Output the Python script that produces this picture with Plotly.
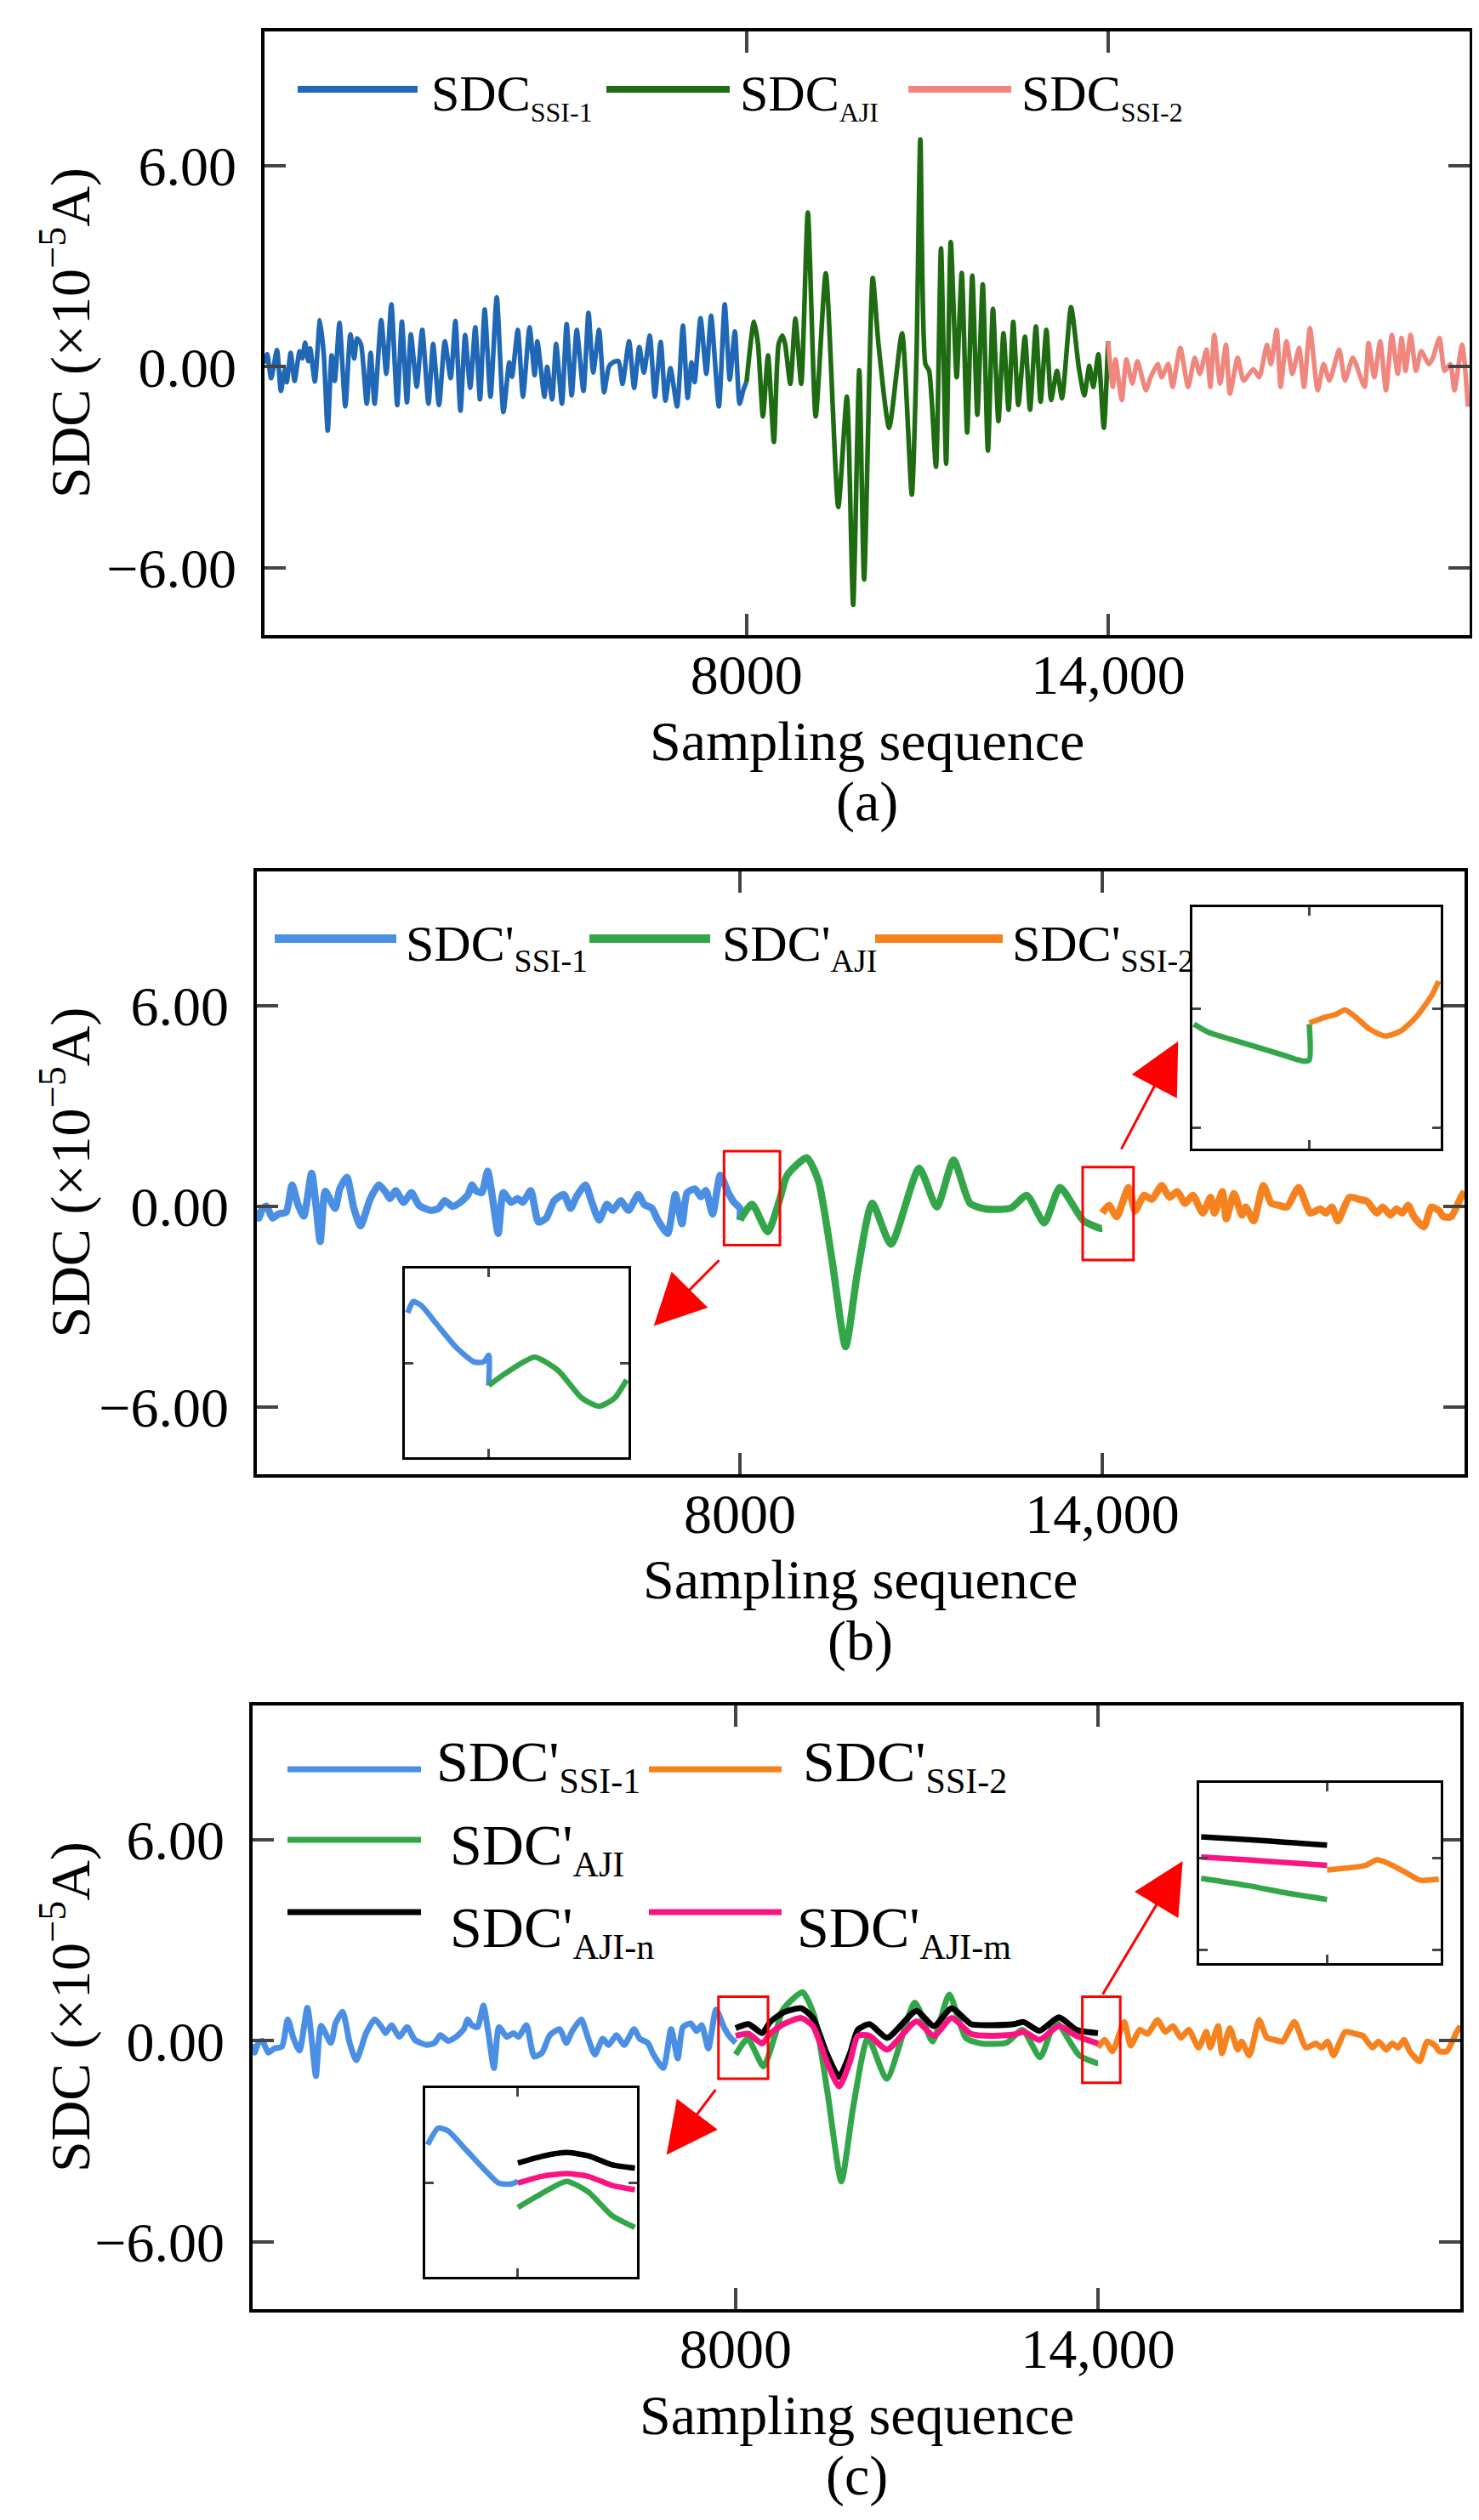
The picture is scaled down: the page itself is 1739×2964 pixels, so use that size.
import plotly.graph_objects as go

W, H = 1739, 2964
FONT = "Liberation Serif"

# ---------------- data: panel (a) ----------------
a_ssi1_x = [0, 45, 110, 207, 272, 337, 369, 434, 499, 583, 628, 674, 726, 758, 836, 920, 985, 1049, 1114,
            1166, 1244, 1341, 1425, 1490, 1535, 1600, 1697, 1762, 1827, 1937, 2021, 2105, 2203, 2280, 2364,
            2429, 2526, 2617, 2721, 2798, 2896, 2993, 3090, 3168, 3252, 3330, 3414, 3498, 3576, 3654, 3751,
            3854, 3965, 4062, 4107, 4204, 4289, 4399, 4483, 4528, 4645, 4690, 4774, 4839, 4936, 5014, 5098,
            5182, 5293, 5377, 5455, 5552, 5636, 5714, 5778, 5875, 5940, 6050, 6135, 6219, 6297, 6394, 6478,
            6575, 6653, 6737, 6847, 6944, 7022, 7087, 7138, 7236, 7333, 7411, 7540, 7638, 7722, 7806, 7884,
            7948, 8000]
a_ssi1_y = [0.1, 0.38, -0.34, 0.5, -0.72, -0.08, -0.46, 0.42, -0.42, 0.46, 0.25, 0.72, 0.17, 0.55, -0.44,
            1.39, 0.34, -1.9, 0.34, -0.42, 1.31, -1.18, 0.97, 0.25, 0.85, 0.68, -1.1, 0.42, -1.1, 1.39, -0.21,
            1.86, -1.14, 1.35, -1.06, 0.97, -0.59, 1.1, -1.1, 0.68, -1.14, 0.76, -0.34, 1.37, -1.31, 0.95,
            -0.63, 1.18, -0.97, 1.71, -0.89, 2.07, -1.35, 0.13, -0.3, 1.1, -0.89, 1.18, -0.25, 0.76, -0.89, 0.0,
            -0.97, 0.68, -1.1, 1.27, -0.85, 1.1, -0.72, 1.61, -0.17, 1.1, -0.76, 0.0, 0.13, 0.17, -0.51, 0.76,
            -0.63, 0.59, -0.17, 0.93, -0.89, 0.74, -1.01, -0.04, -1.18, 1.23, -0.93, 0.13, -0.46, 1.45, -0.21,
            1.52, -1.18, 1.86, -0.38, 1.06, -1.1, -0.68, -0.45]

a_aji_x = [8000, 8123, 8190, 8272, 8356, 8454, 8532, 8596, 8640, 8726, 8810, 8907, 9017, 9147, 9315, 9522,
           9665, 9769, 9870, 9951, 10094, 10190, 10366, 10580, 10742, 10820, 10884, 10968, 11030, 11143, 11227,
           11312, 11389, 11487, 11571, 11661, 11746, 11830, 11920, 12005, 12089, 12180, 12264, 12348, 12426,
           12510, 12620, 12704, 12802, 12879, 12976, 13054, 13151, 13235, 13385, 13514, 13605, 13689, 13754,
           13838, 13929, 14000]
a_aji_y = [-0.45, 1.35, 0.68, -1.48, 0.34, -2.24, 0.68, 0.93, 0.68, -0.51, 1.44, -0.51, 4.6, -1.48, 2.79,
           -4.18, -0.89, -7.1, -0.1, -6.34, 2.65, 0.66, -1.82, 1.0, -3.81, 0.27, 6.78, 0.08, -0.12, -2.98, 3.53,
           -2.89, 3.72, -0.31, 2.8, -1.96, 2.72, -1.43, 2.46, -2.5, 1.73, -1.62, 1.0, -1.28, 1.34, -1.14, 0.9,
           -1.28, 1.2, -1.04, 1.1, -0.99, -0.12, -0.94, 1.78, -0.02, -0.85, 0.03, -0.6, 0.37, -1.82, 0.76]

a_ssi2_x = [14000, 14078, 14123, 14227, 14304, 14402, 14486, 14628, 14706, 14823, 14887, 14998, 15069, 15198,
            15328, 15438, 15522, 15632, 15697, 15762, 15859, 15956, 16021, 16151, 16248, 16410, 16507, 16637,
            16701, 16798, 16863, 16960, 17058, 17168, 17252, 17349, 17479, 17576, 17673, 17835, 17932, 18062,
            18256, 18321, 18418, 18515, 18612, 18709, 18806, 18871, 18936, 19020, 19111, 19195, 19325, 19390,
            19499, 19584, 19681, 19746, 19875, 19973]
a_ssi2_y = [0.76, -0.6, 0.22, -0.99, 0.22, -0.5, 0.17, -0.7, -0.31, 0.08, -0.31, 0.08, -0.6, 0.56, -0.6,
            0.27, -0.21, 0.51, -0.6, 0.95, -0.5, 0.66, -0.8, 0.27, -0.41, -0.07, -0.31, 0.66, 0.08, 1.1, -0.6,
            0.76, -0.21, 0.56, -0.6, 1.15, -0.7, 0.08, -0.41, 0.51, -0.41, 0.27, -0.6, 0.71, -0.31, 0.76, -0.7,
            0.95, -0.21, 0.86, -0.12, 0.95, -0.12, 0.47, 0.08, 0.27, 0.86, -0.12, 0.08, -0.7, 0.66, -1.19]

# ---------------- data: panels (b) and (c) ----------------
b_ssi1_x = [0, 32, 97, 162, 259, 356, 486, 583, 680, 777, 907, 985, 1049, 1134, 1296, 1373, 1490, 1607, 1717,
            1879, 2021, 2138, 2203, 2300, 2430, 2559, 2688, 2883, 3012, 3109, 3239, 3369, 3498, 3563, 3628,
            3725, 3822, 3900, 3997, 4081, 4211, 4321, 4405, 4535, 4664, 4794, 4923, 5085, 5195, 5293, 5442,
            5539, 5668, 5798, 5895, 6025, 6154, 6316, 6413, 6543, 6640, 6802, 6931, 7041, 7126, 7255, 7353,
            7437, 7547, 7676, 7806, 7903, 8000, 8000]
b_ssi1_y = [-0.1, -0.35, -0.06, 0.0, -0.35, -0.23, -0.17, 0.64, 0.06, -0.29, 0.99, -0.06, -1.05, 0.45, -0.06,
            0.52, 0.87, -0.06, -0.58, 0.23, 0.64, 0.41, 0.23, 0.47, 0.12, 0.41, 0.03, -0.12, -0.06, 0.17, 0.0,
            0.12, 0.35, 0.64, 0.47, 0.41, 1.05, 0.29, -0.81, 0.41, 0.12, 0.23, 0.12, 0.47, -0.47, -0.35, 0.17,
            0.35, -0.06, 0.29, 0.64, 0.17, -0.41, 0.06, -0.12, 0.17, -0.12, 0.35, 0.06, -0.06, -0.41, -0.81,
            0.35, -0.52, 0.41, 0.52, 0.29, 0.47, -0.23, 0.93, 0.41, 0.12, -0.06, -0.41]

b_aji_x = [8000, 8200, 8459, 8653, 8783, 9107, 9300, 9523, 9750, 9944, 10191, 10502, 10968, 11260, 11538,
           11810, 12070, 12490, 12750, 13041, 13300, 13689, 13980, 14000]
b_aji_y = [-0.41, 0.06, -0.76, 0.17, 0.93, 1.45, 0.76, -1.57, -4.19, -2.0, 0.09, -1.13, 1.14, -0.02, 1.38,
           0.09, -0.08, -0.05, 0.33, -0.49, 0.56, -0.43, -0.66, -0.66]

b_ssi2_x = [14000, 14110, 14240, 14434, 14544, 14693, 14823, 14985, 15114, 15244, 15373, 15503, 15665, 15794,
            15859, 15989, 16054, 16183, 16313, 16377, 16507, 16669, 16799, 16928, 17058, 17252, 17446, 17608,
            17705, 17803, 17900, 18094, 18256, 18386, 18548, 18645, 18774, 18871, 18969, 19066, 19163, 19325,
            19454, 19584, 19649, 19778, 19940, 20000]
b_ssi2_y = [-0.2, 0.03, -0.31, 0.56, -0.14, 0.33, 0.21, 0.62, 0.27, 0.44, 0.09, 0.33, -0.2, 0.27, -0.2, 0.44,
            -0.37, 0.38, -0.26, -0.02, -0.43, 0.62, 0.09, 0.03, -0.02, 0.56, -0.2, -0.08, -0.2, -0.02, -0.43,
            0.27, 0.21, 0.15, -0.2, -0.02, -0.26, -0.08, -0.2, 0.03, -0.31, -0.61, -0.02, -0.14, -0.31, -0.31,
            0.27, 0.44]

c_ajin_x = [8000, 8213, 8439, 8569, 8795, 9086, 9280, 9506, 9713, 9894, 10023, 10217, 10508, 10993, 11284,
            11575, 11898, 12222, 12610, 12771, 13030, 13353, 13644, 14000]
c_ajin_y = [0.38, 0.5, 0.23, 0.56, 0.85, 0.97, 0.68, -0.37, -1.07, -0.37, 0.33, 0.5, 0.09, 0.89, 0.44, 0.97,
            0.5, 0.47, 0.5, 0.56, 0.3, 0.7, 0.33, 0.23]
c_ajim_x = c_ajin_x
c_ajim_y = [0.15, 0.21, -0.08, 0.21, 0.5, 0.68, 0.44, -0.61, -1.36, -0.61, 0.15, 0.15, -0.26, 0.58, 0.15,
            0.68, 0.21, 0.15, 0.19, 0.27, 0.03, 0.44, 0.15, -0.08]

# ---------------- data: zoomed insets ----------------
ib1_ssi1_x = [7710, 7730, 7758, 7814, 7885, 7947, 7982, 8000, 8000]
ib1_ssi1_y = [0.33, 0.45, 0.41, 0.21, -0.04, -0.19, -0.19, -0.12, -0.44]
ib1_aji_x = [8000, 8066, 8164, 8248, 8332, 8395, 8451, 8493]
ib1_aji_y = [-0.44, -0.30, -0.14, -0.28, -0.57, -0.66, -0.57, -0.38]

ib2_aji_x = [13605, 13656, 13790, 13924, 13977, 14000, 14000]
ib2_aji_y = [-0.13, -0.2, -0.3, -0.4, -0.44, -0.43, -0.13]
ib2_ssi2_x = [14000, 14058, 14091, 14122, 14158, 14205, 14259, 14312, 14366, 14419, 14443]
ib2_ssi2_y = [-0.12, -0.07, -0.05, -0.01, -0.07, -0.17, -0.23, -0.19, -0.07, 0.11, 0.23]

ic1_ssi1_x = [7659, 7699, 7736, 7794, 7868, 7927, 7971, 8000]
ic1_ssi1_y = [0.68, 0.98, 0.93, 0.64, 0.26, -0.01, -0.03, 0.02]
ic1_x = [8000, 8089, 8184, 8266, 8354, 8442]
ic1_ajin_y = [0.35, 0.47, 0.54, 0.48, 0.32, 0.26]
ic1_ajim_y = [-0.01, 0.11, 0.16, 0.11, -0.05, -0.13]
ic1_aji_y = [-0.45, -0.2, 0.02, -0.17, -0.59, -0.81]

ic2_x = [13557, 13722, 13859, 14000]
ic2_ajin_y = [0.23, 0.2, 0.17, 0.14]
ic2_ajim_y = [0.01, -0.02, -0.05, -0.08]
ic2_aji_y = [-0.22, -0.3, -0.38, -0.45]
ic2_ssi2_x = [14000, 14066, 14135, 14176, 14217, 14273, 14327, 14393]
ic2_ssi2_y = [-0.13, -0.11, -0.08, -0.02, -0.06, -0.15, -0.24, -0.23]

# colours
A_BLUE, A_GREEN, A_PINK = "#2068b6", "#1e6b12", "#f0877e"
B_BLUE, B_GREEN, B_ORANGE = "#4a8fe3", "#34a64a", "#f5821f"
BLACK, MAGENTA, RED = "#000000", "#fa1482", "#ff0000"


def fx(px):
    return px / W


def fy(py):
    return 1 - py / H


fig = go.Figure()


def add(x, y, color, width, ax):
    fig.add_trace(go.Scatter(x=x, y=y, mode="lines", xaxis="x" + ax, yaxis="y" + ax,
                             line=dict(color=color, width=width, shape="spline", smoothing=0.6),
                             showlegend=False, hoverinfo="skip"))


# main panels
add(a_ssi1_x, a_ssi1_y, A_BLUE, 5.5, "")
add(a_aji_x, a_aji_y, A_GREEN, 5.5, "")
add(a_ssi2_x, a_ssi2_y, A_PINK, 5.5, "")

add(b_ssi1_x, b_ssi1_y, B_BLUE, 8.5, "2")
add(b_aji_x, b_aji_y, B_GREEN, 8.5, "2")
add(b_ssi2_x, b_ssi2_y, B_ORANGE, 8.5, "2")

add(b_ssi1_x[:-1], b_ssi1_y[:-1], B_BLUE, 7, "3")
add(b_ssi2_x, b_ssi2_y, B_ORANGE, 7, "3")
add(b_aji_x, b_aji_y, B_GREEN, 7, "3")
add(c_ajin_x, c_ajin_y, BLACK, 7, "3")
add(c_ajim_x, c_ajim_y, MAGENTA, 7, "3")

# insets
add(ib1_ssi1_x, ib1_ssi1_y, B_BLUE, 6.5, "4")
add(ib1_aji_x, ib1_aji_y, B_GREEN, 6.5, "4")
add(ib2_aji_x, ib2_aji_y, B_GREEN, 6.5, "5")
add(ib2_ssi2_x, ib2_ssi2_y, B_ORANGE, 6.5, "5")
add(ic1_ssi1_x, ic1_ssi1_y, B_BLUE, 6.5, "6")
add(ic1_x, ic1_ajin_y, BLACK, 6.5, "6")
add(ic1_x, ic1_ajim_y, MAGENTA, 6.5, "6")
add(ic1_x, ic1_aji_y, B_GREEN, 6.5, "6")
add(ic2_x, ic2_ajin_y, BLACK, 6.5, "7")
add(ic2_x, ic2_ajim_y, MAGENTA, 6.5, "7")
add(ic2_x, ic2_aji_y, B_GREEN, 6.5, "7")
add(ic2_ssi2_x, ic2_ssi2_y, B_ORANGE, 6.5, "7")

tickfont = dict(family=FONT, size=66, color="black")


def main_axes(xd, yd):
    xa = dict(domain=[fx(xd[0]), fx(xd[1])], range=[0, 20000], tickvals=[8000, 14000],
              ticktext=["8000", "14,000"], ticks="inside", ticklen=25, tickwidth=3.5,
              showline=True, linewidth=3.5, linecolor="black", mirror="ticks", showgrid=False,
              zeroline=False, tickfont=tickfont, ticklabelstandoff=-14)
    ya = dict(domain=[fy(yd[1]), fy(yd[0])], range=[-8, 10], tickvals=[-6, 0, 6],
              ticktext=["\u22126.00", "0.00", "6.00"], ticks="inside", ticklen=25, tickwidth=3.5,
              showline=True, linewidth=3.5, linecolor="black", mirror="ticks", showgrid=False,
              zeroline=False, tickfont=tickfont, ticklabelstandoff=16)
    return xa, ya


def inset_axes(xd, yd, xr, yr, xt, yt):
    xa = dict(domain=[fx(xd[0]), fx(xd[1])], range=xr, tickvals=xt, ticks="inside", ticklen=10,
              tickwidth=2.5, showline=True, linewidth=3, linecolor="black", mirror="ticks",
              showgrid=False, zeroline=False, showticklabels=False)
    ya = dict(domain=[fy(yd[1]), fy(yd[0])], range=yr, tickvals=yt, ticks="inside", ticklen=10,
              tickwidth=2.5, showline=True, linewidth=3, linecolor="black", mirror="ticks",
              showgrid=False, zeroline=False, showticklabels=False)
    return xa, ya


panels = [((303, 1720), (29, 739)), ((294, 1714), (1017, 1726)), ((289, 1709), (1998, 2708))]
layout = {}
for i, (xd, yd) in enumerate(panels):
    xa, ya = main_axes(xd, yd)
    s = "" if i == 0 else str(i + 1)
    xa["anchor"] = "y" + s
    ya["anchor"] = "x" + s
    layout["xaxis" + s] = xa
    layout["yaxis" + s] = ya

insets = [
    ((468, 731), (1484, 1706), [7700, 8500], [-1.2, 0.8], [8000], [-0.2]),
    ((1394, 1686), (1059, 1343), [13600, 14450], [-1.174, 0.85], [14000], [-1, 0]),
    ((492, 741), (2448, 2670), [7650, 8450], [-1.7, 1.7], [8000], [0]),
    ((1402, 1686), (2089, 2301), [13550, 14400], [-1.141, 0.816], [14000], [-1, 0]),
]
for k, (xd, yd, xr, yr, xt, yt) in enumerate(insets):
    n = str(k + 4)
    xa, ya = inset_axes(xd, yd, xr, yr, xt, yt)
    xa["anchor"] = "y" + n
    ya["anchor"] = "x" + n
    layout["xaxis" + n] = xa
    layout["yaxis" + n] = ya

shapes = []
annotations = []

# red boxes and arrows
red_boxes = [("x2", "y2", 7737, 8663, -1.16, 1.65), ("x2", "y2", 13676, 14518, -1.6, 1.17),
             ("x3", "y3", 7715, 8536, -1.13, 1.32), ("x3", "y3", 13741, 14369, -1.25, 1.32)]
for xr_, yr_, x0, x1, y0, y1 in red_boxes:
    shapes.append(dict(type="rect", xref=xr_, yref=yr_, x0=x0, x1=x1, y0=y0, y1=y1,
                       line=dict(color=RED, width=3)))

arrows = [("x2", "y2", 7676, -1.57, 6573, -3.57), ("x2", "y2", 14304, 1.67, 15257, 4.93),
          ("x3", "y3", 7683, -1.42, 6855, -3.4), ("x3", "y3", 14065, 1.35, 15403, 5.36)]
for xr_, yr_, sx, sy, tx, ty in arrows:
    annotations.append(dict(x=tx, y=ty, ax=sx, ay=sy, xref=xr_, yref=yr_, axref=xr_, ayref=yr_,
                            text="", showarrow=True, arrowhead=2, arrowsize=4, arrowwidth=3,
                            arrowcolor=RED))


def txt(x, y, text, size, xanchor="center", angle=0):
    annotations.append(dict(x=fx(x), y=fy(y), xref="paper", yref="paper", text=text, showarrow=False,
                            xanchor=xanchor, yanchor="middle", textangle=angle,
                            font=dict(family=FONT, size=size, color="black")))


ytitle = "SDC (\u00d710<sup>\u22125</sup>A)"
for (xd, yd), tag, in zip(panels, ["(a)", "(b)", "(c)"]):
    cx = (xd[0] + xd[1]) / 2
    txt(70, (yd[0] + yd[1]) / 2, ytitle, 66, angle=-90)
    txt(cx, yd[1] + 124, "Sampling sequence", 66)
    txt(cx, yd[1] + 196, tag, 66)


def sub(main, s, size):
    return f"{main}<sub><span style='font-size:{size}px'>{s}</span></sub>"


def legend_item(x0, x1, y, color, width, label, tx, ty, size):
    shapes.append(dict(type="line", xref="paper", yref="paper", x0=fx(x0), x1=fx(x1), y0=fy(y), y1=fy(y),
                       line=dict(color=color, width=width)))
    txt(tx, ty, label, size, xanchor="left")


# legend (a)
legend_item(342, 483, 97, A_BLUE, 8, sub("SDC", "SSI-1", 32), 497, 106, 60)
legend_item(705, 850, 97, A_GREEN, 8, sub("SDC", "AJI", 32), 860, 106, 60)
legend_item(1060, 1181, 97, A_PINK, 8, sub("SDC", "SSI-2", 32), 1191, 106, 60)
# legend (b)
legend_item(315, 458, 1096, B_BLUE, 10, sub("SDC'", "SSI-1", 38), 467, 1106, 60)
legend_item(685, 827, 1096, B_GREEN, 10, sub("SDC'", "AJI", 38), 839, 1106, 60)
legend_item(1021, 1171, 1096, B_ORANGE, 10, sub("SDC'", "SSI-2", 38), 1180, 1106, 60)
# legend (c)
legend_item(330, 487, 2073, B_BLUE, 7, sub("SDC'", "SSI-1", 42), 503, 2068, 68)
legend_item(755, 911, 2073, B_ORANGE, 7, sub("SDC'", "SSI-2", 42), 934, 2068, 68)
legend_item(330, 487, 2156, B_GREEN, 7, sub("SDC'", "AJI", 42), 519, 2166, 68)
legend_item(330, 487, 2241, BLACK, 7, sub("SDC'", "AJI-n", 42), 519, 2263, 68)
legend_item(755, 911, 2241, MAGENTA, 7, sub("SDC'", "AJI-m", 42), 927, 2263, 68)

fig.update_layout(width=W, height=H, margin=dict(l=0, r=0, t=0, b=0), paper_bgcolor="white",
                  plot_bgcolor="white", showlegend=False, shapes=shapes, annotations=annotations,
                  font=dict(family=FONT), **layout)

fig.write_html("out.html")
